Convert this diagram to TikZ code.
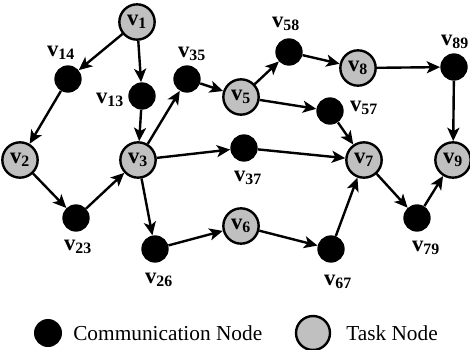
\documentclass[tikz,border=0pt]{standalone}
\usepackage{fontspec}
\setmainfont{Liberation Serif}
\usetikzlibrary{arrows.meta}

\newcommand{\vn}[1]{v\textsubscript{#1}}

\begin{document}
\begin{tikzpicture}[x=0.75pt,y=0.75pt,yscale=-1,xscale=1,
    task/.style={circle, draw, line width=1.8pt, fill={rgb, 255:red, 192; green, 192; blue, 192}, minimum size=26.5pt, inner sep=0pt, font=\fontsize{17}{17}\selectfont\bfseries},
    comm/.style={circle, fill=black, minimum size=20.5pt, inner sep=0pt},
    lab/.style={inner sep=0.75pt, font=\fontsize{17}{17}\selectfont\bfseries},
    link/.style={line width=1.8pt, -{Stealth[length=10pt, width=9pt, inset=2.5pt]}}]
    \useasboundingbox (0,0) rectangle (470,349);

    %Shape: Circle (task nodes)
    \node [task] (v1) at (137,22) {\vn{1}};
    \node [task] (v2) at (20,160) {\vn{2}};
    \node [task] (v3) at (138,160) {\vn{3}};
    \node [task] (v5) at (241,97) {\vn{5}};
    \node [task] (v6) at (241,226) {\vn{6}};
    \node [task] (v7) at (364,160) {\vn{7}};
    \node [task] (v8) at (358,68) {\vn{8}};
    \node [task] (v9) at (453,160) {\vn{9}};
    %Shape: Circle (communication nodes)
    \node [comm] (c14) at (68,79) {};
    \node [comm] (c13) at (142,96) {};
    \node [comm] (c35) at (187,79) {};
    \node [comm] (c58) at (289,52) {};
    \node [comm] (c57) at (330,111) {};
    \node [comm] (c89) at (454,67) {};
    \node [comm] (c37) at (244,148) {};
    \node [comm] (c23) at (76,218) {};
    \node [comm] (c26) at (155,249) {};
    \node [comm] (c67) at (331,249) {};
    \node [comm] (c79) at (417,218) {};

    %Straight Lines
    \draw [link] (v1) -- (c14);
    \draw [link] (v1) -- (c13);
    \draw [link] (c14) -- (v2);
    \draw [link] (c13) -- (v3);
    \draw [link] (v2) -- (c23);
    \draw [link] (c23) -- (v3);
    \draw [link] (v3) -- (c35);
    \draw [link] (c35) -- (v5);
    \draw [link] (v3) -- (c37);
    \draw [link] (v3) -- (c26);
    \draw [link] (c26) -- (v6);
    \draw [link] (v5) -- (c58);
    \draw [link] (c58) -- (v8);
    \draw [link] (v5) -- (c57);
    \draw [link] (c57) -- (v7);
    \draw [link] (c37) -- (v7);
    \draw [link] (v6) -- (c67);
    \draw [link] (c67) -- (v7);
    \draw [link] (v8) -- (c89);
    \draw [link] (c89) -- (v9);
    \draw [link] (v7) -- (c79);
    \draw [link] (c79) -- (v9);

    % Text Node
    \node [lab] (l14) at (61,53) {\vn{14}};
    \node [lab] (l13) at (110,100) {\vn{13}};
    \node [lab] (l35) at (192,54) {\vn{35}};
    \node [lab] (l58) at (286,24) {\vn{58}};
    \node [lab] (l89) at (455,42) {\vn{89}};
    \node [lab] (l57) at (364,108) {\vn{57}};
    \node [lab] (l37) at (248,178) {\vn{37}};
    \node [lab] (l23) at (78,247) {\vn{23}};
    \node [lab] (l26) at (159,280) {\vn{26}};
    \node [lab] (l67) at (338,282) {\vn{67}};
    \node [lab] (l79) at (426,248) {\vn{79}};

    % Legend
    \node [comm, minimum size=21pt] (legcomm) at (48,333) {};
    \node [anchor=west, inner sep=0.75pt, font=\fontsize{16}{16}\selectfont] (legcommtxt) at (72,333) {Communication Node};
    \node [task, minimum size=25.5pt] (legtask) at (313,333) {};
    \node [anchor=west, inner sep=0.75pt, font=\fontsize{16}{16}\selectfont] (legtasktxt) at (345,333) {Task Node};

\end{tikzpicture}
\end{document}
